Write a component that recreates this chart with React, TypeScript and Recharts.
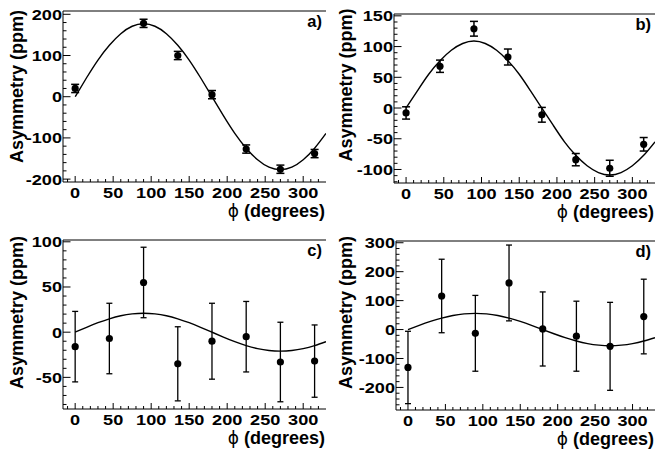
import React from "react";
import { ComposedChart, Line, Scatter, ErrorBar, XAxis, YAxis, ReferenceLine } from "recharts";

// ---- data ----
const phiCurve = [0, 15, 30, 45, 60, 75, 90, 105, 120, 135, 150, 165, 180, 195, 210, 225, 240, 255, 270, 285, 300, 315, 330];

const aPhi = [0, 90, 135, 180, 225, 270, 315];
const aVal = [20, 178, 100, 5, -127, -176, -138];
const aErr = [10, 10, 10, 10, 10, 10, 10];
const aFit = [0, 46, 89, 125, 153, 171, 177, 171, 153, 125, 89, 46, 0, -46, -89, -125, -153, -171, -177, -171, -153, -125, -89];

const bPhi = [0, 45, 90, 135, 180, 225, 270, 315];
const bVal = [-8, 68, 129, 83, -11, -84, -98, -59];
const bErr = [10, 10, 12, 13, 12, 10, 13, 11];
const bFit = [0, 28, 55, 77, 94, 105, 109, 105, 94, 77, 55, 28, 0, -28, -55, -77, -94, -105, -109, -105, -94, -77, -55];

const cPhi = [0, 45, 90, 135, 180, 225, 270, 315];
const cVal = [-16, -7, 55, -35, -10, -5, -33, -32];
const cErr = [39, 39, 39, 41, 42, 39, 44, 40];
const cFit = [0, 5.4, 10.5, 14.8, 18.2, 20.3, 21, 20.3, 18.2, 14.8, 10.5, 5.4, 0, -5.4, -10.5, -14.8, -18.2, -20.3, -21, -20.3, -18.2, -14.8, -10.5];

const dPhi = [0, 45, 90, 135, 180, 225, 270, 315];
const dVal = [-131, 116, -13, 161, 2, -23, -58, 45];
const dErr = [125, 127, 131, 131, 128, 121, 152, 129];
const dFit = [0, 14.5, 28, 39.6, 48.5, 54, 56, 54, 48.5, 39.6, 28, 14.5, 0, -14.5, -28, -39.6, -48.5, -54, -56, -54, -48.5, -39.6, -28];

const xTickLabels = [0, 50, 100, 150, 200, 250, 300];
const aYLabels = [-200, -100, 0, 100, 200];
const bYLabels = [-100, -50, 0, 50, 100, 150];
const cYLabels = [-50, 0, 50, 100];
const dYLabels = [-200, -100, 0, 100, 200, 300];

const yTitle = "Asymmetry (ppm)";
const xTitleRest = " (degrees)";
const phiSym = "\u03d5";

// ---- helpers ----
const range = (s: number, e: number, st: number) => {
  const r: number[] = [];
  for (let v = s; v <= e + 1e-9; v += st) r.push(v);
  return r;
};
const FONT = '"Liberation Sans", Arial, Helvetica, sans-serif';

const pts = (phi: number[], val: number[], err: number[]) =>
  phi.map((p, i) => ({ phi: p, y: val[i], err: err[i] }));
const fit = (vals: number[]) => phiCurve.map((p, i) => ({ phi: p, y: vals[i] }));

type Panel = {
  left: number;
  top: number;
  mTop: number;
  yW: number;
  xH: number;
  yDomain: [number, number];
  yMinorStep: number;
  yLabels: number[];
  points: { phi: number; y: number; err: number }[];
  curve: { phi: number; y: number }[];
  tag: string;
  titleTop: number;
  cap: number;
  ebw: number;
};

const panels: Panel[] = [
  { left: 0, top: 0, mTop: 11, yW: 63, xH: 46, yDomain: [-207, 208], yMinorStep: 20, yLabels: aYLabels, points: pts(aPhi, aVal, aErr), curve: fit(aFit), tag: "a)", titleTop: 10, cap: 4, ebw: 1.5 },
  { left: 329, top: 0, mTop: 14, yW: 65, xH: 45, yDomain: [-122, 153], yMinorStep: 10, yLabels: bYLabels, points: pts(bPhi, bVal, bErr), curve: fit(bFit), tag: "b)", titleTop: 8.5, cap: 4, ebw: 1.5 },
  { left: 0, top: 228, mTop: 12, yW: 63, xH: 47, yDomain: [-85, 102], yMinorStep: 10, yLabels: cYLabels, points: pts(cPhi, cVal, cErr), curve: fit(cFit), tag: "c)", titleTop: 8, cap: 3, ebw: 1.3 },
  { left: 329, top: 228, mTop: 13, yW: 67, xH: 46, yDomain: [-278, 306], yMinorStep: 20, yLabels: dYLabels, points: pts(dPhi, dVal, dErr), curve: fit(dFit), tag: "d)", titleTop: 8, cap: 3, ebw: 1.3 },
];

const W = 329;
const H = 228;

const makeXTick = () => (props: any) => {
  const { x, y, payload } = props;
  const v = payload.value;
  const major = xTickLabels.includes(v);
  return (
    <g>
      <line x1={x} y1={y} x2={x} y2={y - (major ? 6 : 3)} stroke="#000" strokeWidth={1} />
      {major && (
        <text
          transform={`translate(${x},${y + 16}) scale(1.17,1)`}
          textAnchor="middle"
          fontFamily={FONT}
          fontWeight="bold"
          fontSize={15.5}
          fill="#000"
        >
          {v}
        </text>
      )}
    </g>
  );
};

const makeYTick = (labels: number[]) => (props: any) => {
  const { x, y, payload } = props;
  const v = payload.value;
  const major = labels.includes(v);
  return (
    <g>
      <line x1={x} y1={y} x2={x + (major ? 7.5 : 3.5)} y2={y} stroke="#000" strokeWidth={1} />
      {major && (
        <text
          transform={`translate(${x - 1},${y + 5.5}) scale(1.17,1)`}
          textAnchor="end"
          fontFamily={FONT}
          fontWeight="bold"
          fontSize={15.5}
          fill="#000"
        >
          {v}
        </text>
      )}
    </g>
  );
};

const Dot = (props: any) => {
  const { cx, cy } = props;
  if (cx == null || cy == null) return null;
  return <circle cx={cx} cy={cy} r={3.6} fill="#000" />;
};

function PanelChart({ p }: { p: Panel }) {
  const xLabel = (lp: any) => {
    const vb = lp.viewBox || {};
    const right = vb.x + vb.width;
    return (
      <g>
        <text x={right - 1} y={vb.y + 35} textAnchor="end" fontFamily={FONT} fontWeight="bold" fontSize={18} fill="#000">
          <tspan fontWeight="normal" fontFamily={'"DejaVu Sans", sans-serif'} fontSize={17}>{phiSym}</tspan>
          {xTitleRest}
        </text>
        <text x={right - 4} y={p.mTop + 16} textAnchor="end" fontFamily={FONT} fontWeight="bold" fontSize={16.5} fill="#000">
          {p.tag}
        </text>
      </g>
    );
  };
  const yLabel = (lp: any) => {
    const vb = lp.viewBox || {};
    const bx = vb.x + 23;
    const by = p.titleTop;
    return (
      <text
        x={bx}
        y={by}
        transform={`rotate(-90, ${bx}, ${by})`}
        textAnchor="end"
        fontFamily={FONT}
        fontWeight="bold"
        fontSize={18}
        fill="#000"
      >
        {yTitle}
      </text>
    );
  };
  const yTicks = range(Math.ceil(p.yDomain[0] / p.yMinorStep) * p.yMinorStep, p.yDomain[1], p.yMinorStep);
  return (
    <div style={{ position: "absolute", left: p.left, top: p.top, width: W, height: H }}>
      <ComposedChart width={W} height={H} margin={{ top: p.mTop, right: 3, bottom: 0, left: 0 }}>
        <XAxis
          type="number"
          dataKey="phi"
          domain={[-16, 330]}
          allowDataOverflow
          ticks={range(-10, 320, 10)}
          interval={0}
          tickSize={0}
          tickMargin={0}
          tickLine={false}
          height={p.xH}
          axisLine={{ stroke: "#000", strokeWidth: 1 }}
          tick={makeXTick()}
          label={xLabel}
        />
        <YAxis
          type="number"
          domain={p.yDomain}
          allowDataOverflow
          ticks={yTicks}
          interval={0}
          tickSize={0}
          tickMargin={0}
          tickLine={false}
          width={p.yW}
          axisLine={{ stroke: "#000", strokeWidth: 1 }}
          tick={makeYTick(p.yLabels)}
          label={yLabel}
        />
        <ReferenceLine y={p.yDomain[1]} stroke="#000" strokeWidth={1} ifOverflow="visible" />
        <Line
          data={p.curve}
          dataKey="y"
          type="natural"
          stroke="#000"
          strokeWidth={1.4}
          dot={false}
          activeDot={false}
          isAnimationActive={false}
        />
        <Scatter data={p.points} dataKey="y" shape={Dot} isAnimationActive={false}>
          <ErrorBar dataKey="err" direction="y" width={p.cap} stroke="#000" strokeWidth={p.ebw} isAnimationActive={false} />
        </Scatter>
      </ComposedChart>
    </div>
  );
}

export default function App() {
  return (
    <div style={{ position: "absolute", left: 0, top: 0, width: 658, height: 456, background: "#fff", overflow: "hidden" }}>
      {panels.map((p) => (
        <PanelChart key={p.tag} p={p} />
      ))}
    </div>
  );
}
